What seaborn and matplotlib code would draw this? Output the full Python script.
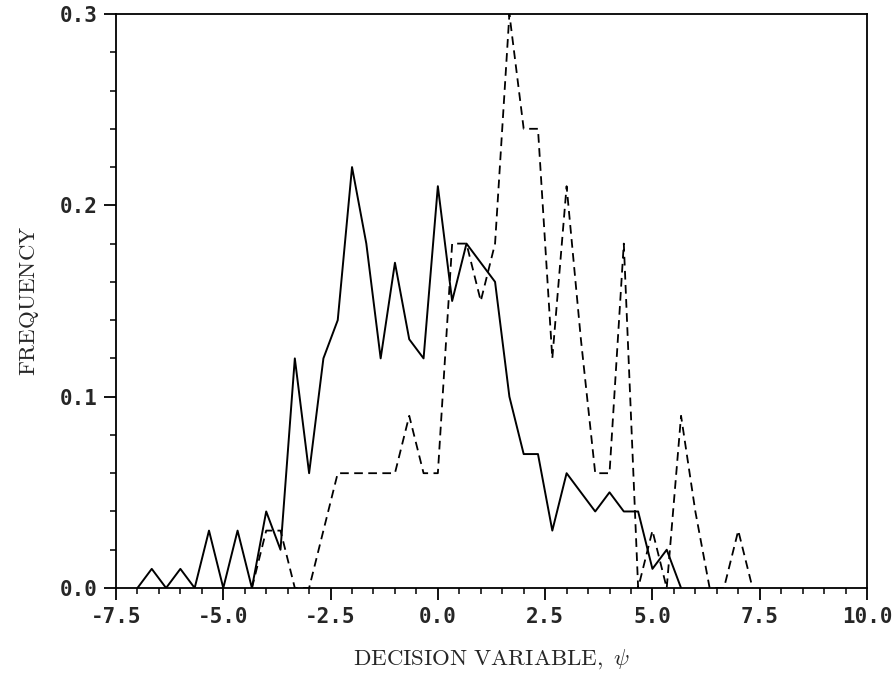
import numpy as np
import pandas as pd
import matplotlib
matplotlib.use("Agg")
import matplotlib.pyplot as plt
from matplotlib.ticker import MultipleLocator, FormatStrFormatter
import seaborn as sns

# ---- data ----
solid_x = [-7.000, -6.667, -6.333, -6.000, -5.667, -5.333, -5.000, -4.667, -4.333,
           -4.000, -3.667, -3.333, -3.000, -2.667, -2.333, -2.000, -1.667, -1.333,
           -1.000, -0.667, -0.333, 0.000, 0.333, 0.667, 1.000, 1.333, 1.667,
           2.000, 2.333, 2.667, 3.000, 3.333, 3.667, 4.000, 4.333, 4.667,
           5.000, 5.333, 5.667]
solid_y = [0.00, 0.01, 0.00, 0.01, 0.00, 0.03, 0.00, 0.03, 0.00,
           0.04, 0.02, 0.12, 0.06, 0.12, 0.14, 0.22, 0.18, 0.12,
           0.17, 0.13, 0.12, 0.21, 0.15, 0.18, 0.17, 0.16, 0.10,
           0.07, 0.07, 0.03, 0.06, 0.05, 0.04, 0.05, 0.04, 0.04,
           0.01, 0.02, 0.00]

dashed_x = [-4.333, -4.000, -3.667, -3.333, -3.000, -2.667, -2.333, -2.000, -1.667,
            -1.333, -1.000, -0.667, -0.333, 0.000, 0.333, 0.667, 1.000, 1.333,
            1.667, 2.000, 2.333, 2.667, 3.000, 3.333, 3.667, 4.000, 4.333,
            4.667, 5.000, 5.333, 5.667, 6.000, 6.333, 6.667, 7.000, 7.333]
dashed_y = [0.00, 0.03, 0.03, 0.00, 0.00, 0.03, 0.06, 0.06, 0.06,
            0.06, 0.06, 0.09, 0.06, 0.06, 0.18, 0.18, 0.15, 0.18,
            0.30, 0.24, 0.24, 0.12, 0.21, 0.13, 0.06, 0.06, 0.18,
            0.00, 0.03, 0.00, 0.09, 0.04, 0.00, 0.00, 0.03, 0.00]

x_ticks = [-7.5, -5.0, -2.5, 0.0, 2.5, 5.0, 7.5, 10.0]
y_ticks = [0.0, 0.1, 0.2, 0.3]
x_label = r"$\mathrm{DECISION\ VARIABLE,}\ \psi$"
y_label = r"$\mathrm{FREQUENCY}$"

# ---- style ----
sns.set_style("ticks")
plt.rcParams["font.family"] = ["DejaVu Sans Mono", "DejaVu Sans"]
plt.rcParams["mathtext.fontset"] = "cm"
plt.rcParams["axes.unicode_minus"] = False

fig = plt.figure(figsize=(8.95, 6.8), dpi=100)
ax = fig.add_axes([116 / 895, (680 - 588) / 680, (867 - 116) / 895, (588 - 14) / 680])

df_s = pd.DataFrame({"x": solid_x, "y": solid_y})
df_d = pd.DataFrame({"x": dashed_x, "y": dashed_y})
sns.lineplot(data=df_s, x="x", y="y", ax=ax, color="black", lw=1.4, sort=False)
sns.lineplot(data=df_d, x="x", y="y", ax=ax, color="black", lw=1.3, sort=False,
             linestyle=(0, (4.8, 3.0)))

ax.set_xlim(-7.5, 10.0)
ax.set_ylim(0.0, 0.3)
ax.set_xticks(x_ticks)
ax.set_yticks(y_ticks)
ax.xaxis.set_minor_locator(MultipleLocator(0.5))
ax.yaxis.set_minor_locator(MultipleLocator(0.02))
ax.xaxis.set_major_formatter(FormatStrFormatter("%.1f"))
ax.yaxis.set_major_formatter(FormatStrFormatter("%.1f"))

for sp in ax.spines.values():
    sp.set_linewidth(1.3)
    sp.set_color("black")

ax.tick_params(which="major", direction="out", length=8.5, width=1.3, color="black",
               labelsize=15, pad=5, top=False, right=False)
ax.tick_params(which="minor", direction="out", length=4.3, width=1.1, color="black",
               top=False, right=False)
for lab in ax.get_xticklabels() + ax.get_yticklabels():
    lab.set_fontweight("bold")

ax.set_xlabel(x_label, fontsize=16.5, labelpad=15)
ax.set_ylabel(y_label, fontsize=16.5, labelpad=13)

fig.savefig("out.png", dpi=100, facecolor="white")
